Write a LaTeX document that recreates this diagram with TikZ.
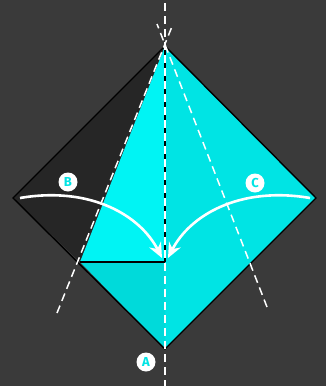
\documentclass[tikz,border=0pt]{standalone}
\usepackage{fontspec}
\setsansfont{Fira Sans}
\usetikzlibrary{arrows.meta}
\definecolor{bgdark}{HTML}{3A3A3A}
\definecolor{backside}{HTML}{262626}
\definecolor{cyanflap}{HTML}{00F4F4}
\definecolor{cyanright}{HTML}{00E4E4}
\definecolor{cyanlow}{HTML}{00DADA}
\begin{document}
\begin{tikzpicture}[x=1pt, y=-1pt,
         edge/.style={black, line width=1.4pt, line join=miter},
         fold/.style={white, line width=1.5pt, dash pattern=on 8pt off 5pt},
         foldarrow/.style={white, line width=2.6pt, -{Stealth[length=15pt, width=13pt]}},
         tag/.style={circle, fill=white, minimum size=19pt, inner sep=0pt,
                     text=cyanright, font=\sffamily\bfseries\fontsize{13}{13}\selectfont}
      ]
   \useasboundingbox[fill=bgdark] (0,0) rectangle (326,386);

   % paper corners
   \coordinate (top) at (165,46);
   \coordinate (left) at (13,198);
   \coordinate (right) at (316,198);
   \coordinate (bottom) at (165,349);
   \coordinate (flapL) at (80,262);
   \coordinate (flapC) at (165,262);

   % fold line ends
   \coordinate (midT) at (165,3);
   \coordinate (midB) at (165,386);
   \coordinate (leftT) at (173,24);
   \coordinate (leftB) at (57,313);
   \coordinate (rightT) at (157,24);
   \coordinate (rightB) at (267,307);

   \fill[backside] (top) -- (left) -- (flapL) -- cycle;
   \fill[cyanright] (top) -- (right) -- (bottom) -- cycle;
   \fill[cyanlow] (flapL) -- (flapC) -- (bottom) -- cycle;
   \fill[cyanflap] (top) -- (flapL) -- (flapC) -- cycle;

   \draw[edge] (top) -- (left) -- (bottom) -- (right) -- cycle;
   \draw[edge] (flapL) -- (flapC);
   \draw[edge] (top) -- (flapC);

   \begin{scope}[fold]
      \draw (midT) -- (midB);
      \draw (leftB) -- (leftT);
      \draw (rightB) -- (rightT);
   \end{scope}

   \coordinate (bStart) at (20,198);
   \coordinate (bEnd) at (162,258);
   \coordinate (cStart) at (310,198);
   \coordinate (cEnd) at (168,258);
   \draw[foldarrow] (bStart) .. controls (90,186) and (140,215) .. (bEnd);
   \draw[foldarrow] (cStart) .. controls (240,186) and (190,215) .. (cEnd);

   \node[tag] (tagB) at (68,182) {B};
   \node[tag] (tagC) at (255,183) {C};
   \node[tag] (tagA) at (146,362) {A};
\end{tikzpicture}
\end{document}
